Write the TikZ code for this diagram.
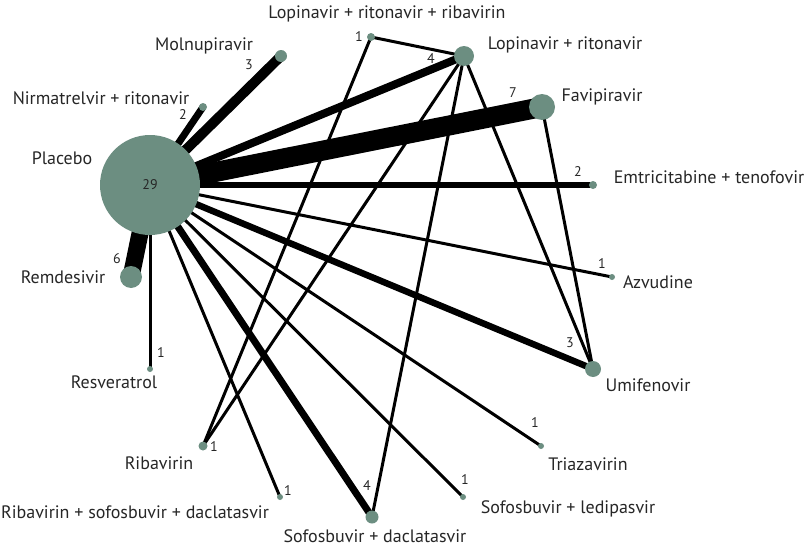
\documentclass[tikz,border=0pt]{standalone}
\usepackage{fontspec}
\setmainfont{PT Sans}
\usetikzlibrary{backgrounds}
\definecolor{nodegreen}{RGB}{108,142,129}
\tikzset{
  trt/.style={circle,fill=nodegreen,inner sep=0pt,minimum size=#1},
  lab/.style={font=\fontsize{18}{20}\selectfont,text=black!85,inner sep=0pt},
  num/.style={font=\fontsize{14}{16}\selectfont,text=black!85,inner sep=0pt},
  link/.style={line width=#1,black},
}
\begin{document}
\begin{tikzpicture}[x=1pt,y=-1pt]
\useasboundingbox (0,0) rectangle (812,546);
% nodes
\node[trt=100pt] (pla) at (150,185) {};
\node[trt=12pt] (mol) at (281,56) {};
\node[trt=8pt] (nir) at (203,107) {};
\node[trt=8pt] (lrr) at (371,37) {};
\node[trt=20pt] (lpv) at (464,56) {};
\node[trt=26pt] (fav) at (542,107) {};
\node[trt=8pt] (emt) at (593,185) {};
\node[trt=6pt] (azv) at (612,277) {};
\node[trt=16pt] (umi) at (593,369) {};
\node[trt=6pt] (tri) at (541,446) {};
\node[trt=6pt] (sl) at (463,497) {};
\node[trt=13pt] (sd) at (372,517) {};
\node[trt=6pt] (rsd) at (280,497) {};
\node[trt=9pt] (rib) at (203,446) {};
\node[trt=6pt] (res) at (150,369) {};
\node[trt=22pt] (rem) at (131,277) {};
% edges
\begin{scope}[on background layer]
\draw[link=10pt] (pla.center) -- (mol.center);
\draw[link=7pt] (pla.center) -- (nir.center);
\draw[link=8pt] (pla.center) -- (lpv.center);
\draw[link=20pt] (pla.center) -- (fav.center);
\draw[link=5.5pt] (pla.center) -- (emt.center);
\draw[link=3pt] (pla.center) -- (azv.center);
\draw[link=6.5pt] (pla.center) -- (umi.center);
\draw[link=3pt] (pla.center) -- (tri.center);
\draw[link=3pt] (pla.center) -- (sl.center);
\draw[link=7pt] (pla.center) -- (sd.center);
\draw[link=3pt] (pla.center) -- (rsd.center);
\draw[link=17pt] (pla.center) -- (rem.center);
\draw[link=3pt] (pla.center) -- (res.center);
\draw[link=3pt] (lrr.center) -- (lpv.center);
\draw[link=3pt] (lrr.center) -- (rib.center);
\draw[link=3pt] (lpv.center) -- (rib.center);
\draw[link=3pt] (lpv.center) -- (sd.center);
\draw[link=3pt] (lpv.center) -- (umi.center);
\draw[link=3pt] (fav.center) -- (umi.center);
\end{scope}
% treatment labels
\node[lab] (tpla) at (62,158) {Placebo};
\node[lab] (tmol) at (204,46) {Molnupiravir};
\node[lab] (tnir) at (101,98) {Nirmatrelvir + ritonavir};
\node[lab] (tlrr) at (387,14) {Lopinavir + ritonavir + ribavirin};
\node[lab] (tlpv) at (565,45) {Lopinavir + ritonavir};
\node[lab] (tfav) at (602,97) {Favipiravir};
\node[lab] (temt) at (709,177) {Emtricitabine + tenofovir};
\node[lab] (tazv) at (658,282) {Azvudine};
\node[lab] (tumi) at (648,385) {Umifenovir};
\node[lab] (ttri) at (588,464) {Triazavirin};
\node[lab] (tsl) at (568,509) {Sofosbuvir + ledipasvir};
\node[lab] (tsd) at (375,536) {Sofosbuvir + daclatasvir};
\node[lab] (trsd) at (135,512) {Ribavirin + sofosbuvir + daclatasvir};
\node[lab] (trib) at (159,463) {Ribavirin};
\node[lab] (tres) at (114,382) {Resveratrol};
\node[lab] (trem) at (63,277) {Remdesivir};
% study counts
\node[num] (npla) at (150,185) {29};
\node[num] (nmol) at (249,65) {3};
\node[num] (nnir) at (183,115) {2};
\node[num] (nlrr) at (359,37) {1};
\node[num] (nlpv) at (431,59) {4};
\node[num] (nfav) at (513,93) {7};
\node[num] (nemt) at (578,172) {2};
\node[num] (nazv) at (602,264) {1};
\node[num] (numi) at (570,343) {3};
\node[num] (ntri) at (535,423) {1};
\node[num] (nsl) at (465,480) {1};
\node[num] (nsd) at (367,486) {4};
\node[num] (nrsd) at (288,491) {1};
\node[num] (nrib) at (214,447) {1};
\node[num] (nres) at (161,353) {1};
\node[num] (nrem) at (117,259) {6};
\end{tikzpicture}
\end{document}
